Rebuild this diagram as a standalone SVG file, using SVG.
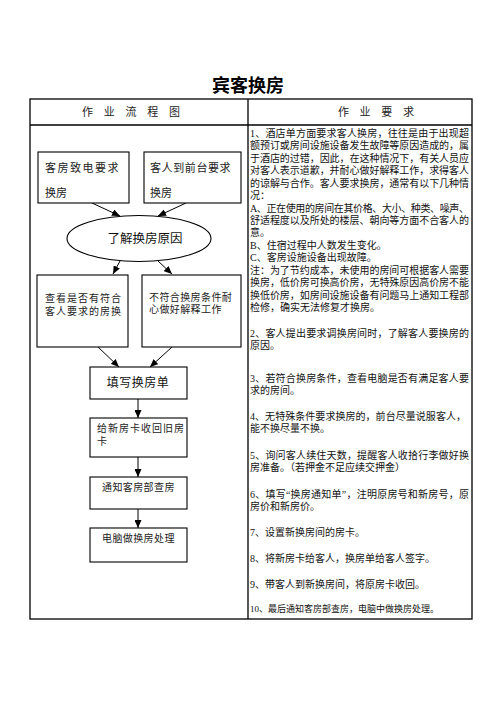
<svg xmlns="http://www.w3.org/2000/svg" width="496" height="702" viewBox="0 0 496 702">
<style>
text{font-family:"Liberation Serif","Noto Sans CJK SC",serif;fill:#111}
.title{font-size:18px;font-weight:bold;fill:#000}
.hd{font-size:11px;fill:#222}
.r{font-size:10px}
.s{font-size:9px}
.bx{fill:#fff;stroke:#000;stroke-width:1.1}
.grid{fill:none;stroke:#000;stroke-width:1.3}
.c{stroke:#000;stroke-width:1;fill:none}
.n{font-size:11px;fill:#222}
.m{font-size:10px;fill:#222}
</style>
<defs>
<marker id="ah" markerUnits="userSpaceOnUse" markerWidth="8" markerHeight="7" refX="8" refY="3.5" orient="auto">
<path d="M0,0 L8,3.5 L0,7 z" fill="#000"/>
</marker>
</defs>
<rect width="496" height="702" fill="#fff"/>
<text class="title" x="248" y="92" text-anchor="middle">宾客换房</text>
<g id="table">
<rect class="grid" x="30" y="99" width="442" height="520"/>
<line class="grid" x1="30" y1="125" x2="472" y2="125"/>
<line class="grid" x1="248" y1="99" x2="248" y2="619"/>
<text class="hd" x="133" y="116" text-anchor="middle" letter-spacing="4">作 业 流 程 图</text>
<text class="hd" x="378" y="116" text-anchor="middle" letter-spacing="4">作 业 要 求</text>
</g>
<g id="connectors">
<line class="c" x1="92" y1="203" x2="120" y2="216" marker-end="url(#ah)"/>
<line class="c" x1="186" y1="203" x2="158" y2="216" marker-end="url(#ah)"/>
<line class="c" x1="120" y1="261" x2="113" y2="274" marker-end="url(#ah)"/>
<line class="c" x1="158" y1="261" x2="172" y2="274" marker-end="url(#ah)"/>
<line class="c" x1="98" y1="347" x2="119" y2="367" marker-end="url(#ah)"/>
<line class="c" x1="172" y1="347" x2="150" y2="367" marker-end="url(#ah)"/>
<line class="c" x1="138" y1="399" x2="138" y2="418" marker-end="url(#ah)"/>
<line class="c" x1="138" y1="457" x2="138" y2="477" marker-end="url(#ah)"/>
<line class="c" x1="138" y1="509" x2="138" y2="528" marker-end="url(#ah)"/>
</g>
<g id="n1">
<rect class="bx" x="38" y="152" width="91" height="51"/>
<text class="n" x="45" y="172" letter-spacing="1.5">客房致电要求</text>
<text class="n" x="45" y="197">换房</text>
</g>
<g id="n2">
<rect class="bx" x="144" y="152" width="97" height="51"/>
<text class="n" x="150" y="172" letter-spacing="0.6">客人到前台要求</text>
<text class="n" x="150" y="197">换房</text>
</g>
<g id="n3">
<ellipse class="bx" cx="139" cy="238.5" rx="72" ry="23"/>
<text x="145" y="243" font-size="12.5" fill="#222" text-anchor="middle">了解换房原因</text>
</g>
<g id="n4">
<rect class="bx" x="37" y="275" width="91" height="72"/>
<text class="m" x="45" y="302" letter-spacing="1">查看是否有符合</text>
<text class="m" x="45" y="315" letter-spacing="1">客人要求的房换</text>
</g>
<g id="n5">
<rect class="bx" x="142" y="275" width="99" height="72"/>
<text class="m" x="149" y="301" letter-spacing="0.4">不符合换房条件耐</text>
<text class="m" x="149" y="313" letter-spacing="0.4">心做好解释工作</text>
</g>
<g id="n6">
<rect class="bx" x="90" y="367" width="97" height="32"/>
<text x="138" y="387" font-size="12" fill="#222" text-anchor="middle" letter-spacing="0.5">填写换房单</text>
</g>
<g id="n7">
<rect class="bx" x="90" y="418" width="97" height="39"/>
<text class="m" x="97" y="432" letter-spacing="1">给新房卡收回旧房</text>
<text class="m" x="97" y="445">卡</text>
</g>
<g id="n8">
<rect class="bx" x="90" y="477" width="97" height="32"/>
<text class="m" x="102" y="491" letter-spacing="0.4">通知客房部查房</text>
</g>
<g id="n9">
<rect class="bx" x="90" y="528" width="97" height="34"/>
<text class="m" x="102" y="542" letter-spacing="0.4">电脑做换房处理</text>
</g>
<g id="requirements">
<text class="r" x="250" y="136.8" textLength="219" lengthAdjust="spacing">1、酒店单方面要求客人换房，往往是由于出现超</text>
<text class="r" x="250" y="149.3" textLength="219" lengthAdjust="spacing">额预订或房间设施设备发生故障等原因造成的，属</text>
<text class="r" x="250" y="161.8" textLength="219" lengthAdjust="spacing">于酒店的过错，因此，在这种情况下，有关人员应</text>
<text class="r" x="250" y="174.2" textLength="219" lengthAdjust="spacing">对客人表示道歉，并耐心做好解释工作，求得客人</text>
<text class="r" x="250" y="186.6" textLength="219" lengthAdjust="spacing">的谅解与合作。客人要求换房，通常有以下几种情</text>
<text class="r" x="250" y="199.1">况：</text>
<text class="r" x="250" y="211.5" textLength="219" lengthAdjust="spacing">A、正在使用的房间在其价格、大小、种类、噪声、</text>
<text class="r" x="250" y="224" textLength="219" lengthAdjust="spacing">舒适程度以及所处的楼层、朝向等方面不合客人的</text>
<text class="r" x="250" y="236.4">意。</text>
<text class="r" x="250" y="248.8">B、住宿过程中人数发生变化。</text>
<text class="r" x="250" y="261.3">C、客房设施设备出现故障。</text>
<text class="r" x="250" y="273.8" textLength="219" lengthAdjust="spacing">注：为了节约成本，未使用的房间可根据客人需要</text>
<text class="r" x="250" y="286.2" textLength="219" lengthAdjust="spacing">换房，低价房可换高价房，无特殊原因高价房不能</text>
<text class="r" x="250" y="298.7" textLength="219" lengthAdjust="spacing">换低价房，如房间设施设备有问题马上通知工程部</text>
<text class="r" x="250" y="311.1">检修，确实无法修复才换房。</text>
<text class="r" x="250" y="336.8" textLength="219" lengthAdjust="spacing">2、客人提出要求调换房间时，了解客人要换房的</text>
<text class="r" x="250" y="349.3">原因。</text>
<text class="r" x="250" y="381.8" textLength="219" lengthAdjust="spacing">3、若符合换房条件，查看电脑是否有满足客人要</text>
<text class="r" x="250" y="393.8">求的房间。</text>
<text class="r" x="250" y="419.8" textLength="216" lengthAdjust="spacing">4、无特殊条件要求换房的，前台尽量说服客人，</text>
<text class="r" x="250" y="431.8">能不换尽量不换。</text>
<text class="r" x="250" y="458.8" textLength="219" lengthAdjust="spacing">5、询问客人续住天数，提醒客人收拾行李做好换</text>
<text class="r" x="250" y="470.8">房准备。（若押金不足应续交押金）</text>
<text class="r" x="250" y="497.8" textLength="219" lengthAdjust="spacing">6、填写“换房通知单”，注明原房号和新房号，原</text>
<text class="r" x="250" y="509.8">房价和新房价。</text>
<text class="r" x="250" y="535.8">7、设置新换房间的房卡。</text>
<text class="r" x="250" y="561.8">8、将新房卡给客人，换房单给客人签字。</text>
<text class="r" x="250" y="587.8">9、带客人到新换房间，将原房卡收回。</text>
<text class="s" x="250" y="611.5">10、最后通知客房部查房，电脑中做换房处理。</text>
</g>
</svg>
